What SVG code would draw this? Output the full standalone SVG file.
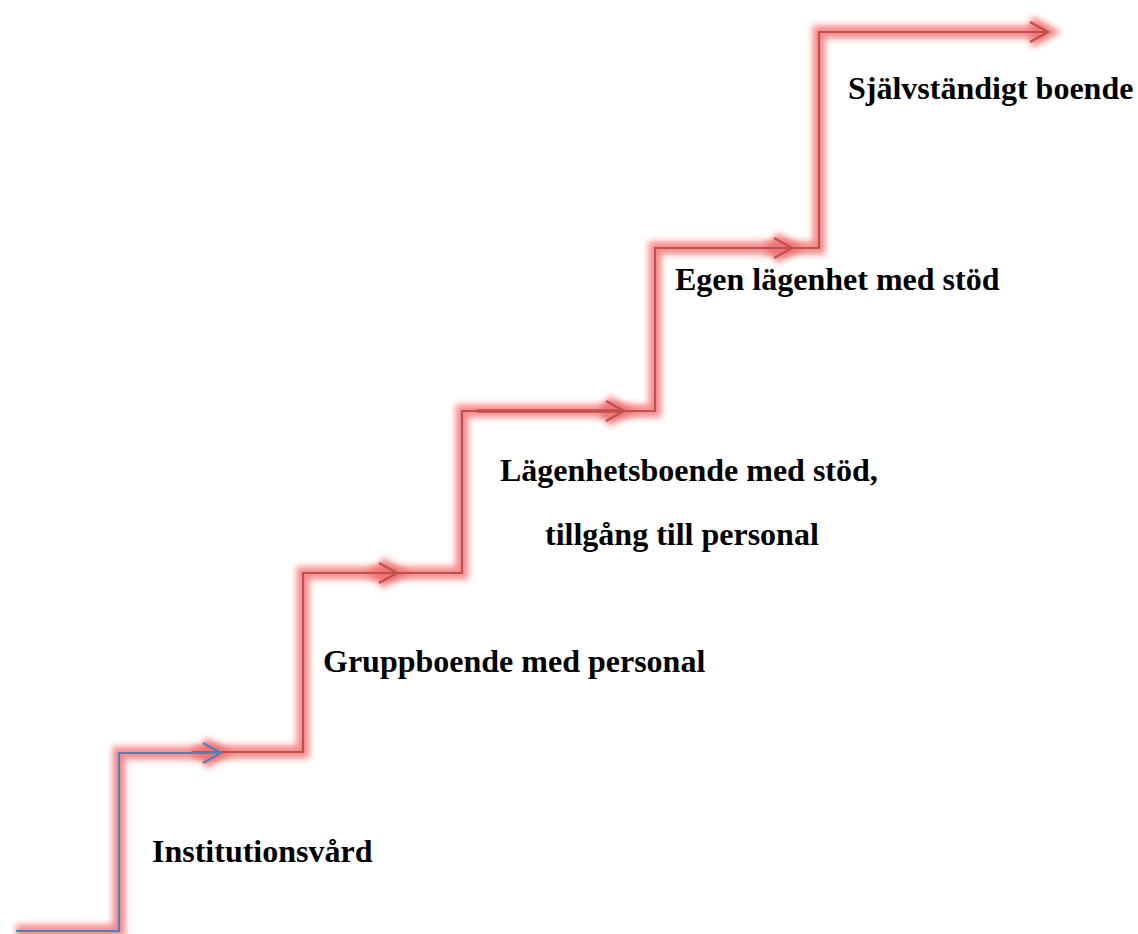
<svg xmlns="http://www.w3.org/2000/svg" width="1138" height="934" viewBox="0 0 1138 934">
<style>
.glow{fill:none;stroke:#f07070;stroke-width:13;stroke-opacity:0.8;stroke-linejoin:miter;filter:url(#blur)}
.red{fill:none;stroke:#c0504d;stroke-width:2.2}
.blue{fill:none;stroke:#4f81bd;stroke-width:2.2}
.lbl{font-family:"Liberation Serif","Times New Roman",serif;font-weight:bold;font-size:32px;fill:#000}
</style>
<defs>
<filter id="blur" x="-20%" y="-20%" width="140%" height="140%"><feGaussianBlur stdDeviation="3"/></filter>
<marker id="ar" markerUnits="userSpaceOnUse" markerWidth="30" markerHeight="30" refX="20" refY="11" orient="auto" overflow="visible">
<path d="M2,1 L20,11 L2,21" fill="none" stroke="#c0504d" stroke-width="2.2"/>
</marker>
<marker id="ab" markerUnits="userSpaceOnUse" markerWidth="30" markerHeight="30" refX="20" refY="11" orient="auto" overflow="visible">
<path d="M2,1 L20,11 L2,21" fill="none" stroke="#4f81bd" stroke-width="2.2"/>
</marker>
<marker id="ag" markerUnits="userSpaceOnUse" markerWidth="40" markerHeight="40" refX="20" refY="11" orient="auto" overflow="visible">
<path d="M2,1 L20,11 L2,21" fill="none" stroke="#f07070" stroke-opacity="0.8" stroke-width="13"/>
</marker>
</defs>
<rect width="1138" height="934" fill="#fff"/>
<g id="connectors">
<g id="glows">
<path class="glow" marker-end="url(#ag)" d="M16,931 H119 V753 H221"/>
<path class="glow" marker-end="url(#ag)" d="M192,752 H303 V573 H397"/>
<path class="glow" marker-end="url(#ag)" d="M370,573 H462 V411 H624"/>
<path class="glow" d="M477,411 H624"/>
<path class="glow" marker-end="url(#ag)" d="M600,411 H655 V248 H792"/>
<path class="glow" marker-end="url(#ag)" d="M765,248 H819 V32 H1048"/>
</g>
<path class="red" marker-end="url(#ar)" d="M192,752 H303 V573 H397"/>
<path class="red" marker-end="url(#ar)" d="M370,573 H462 V411 H624"/>
<path class="red" style="stroke-width:3.5" d="M477,411 H620"/>
<path class="red" marker-end="url(#ar)" d="M600,411 H655 V248 H792"/>
<path class="red" marker-end="url(#ar)" d="M765,248 H819 V32 H1048"/>
<path class="blue" marker-end="url(#ab)" d="M16,931 H119 V753 H221"/>
</g>
<g id="n1"><text class="lbl" x="152" y="862">Institutionsvård</text></g>
<g id="n2"><text class="lbl" x="323" y="672">Gruppboende med personal</text></g>
<g id="n3"><text class="lbl" x="500" y="481">Lägenhetsboende med stöd,</text><text class="lbl" x="545" y="545">tillgång till personal</text></g>
<g id="n4"><text class="lbl" x="675" y="290">Egen lägenhet med stöd</text></g>
<g id="n5"><text class="lbl" x="848" y="99">Självständigt boende</text></g>
</svg>
